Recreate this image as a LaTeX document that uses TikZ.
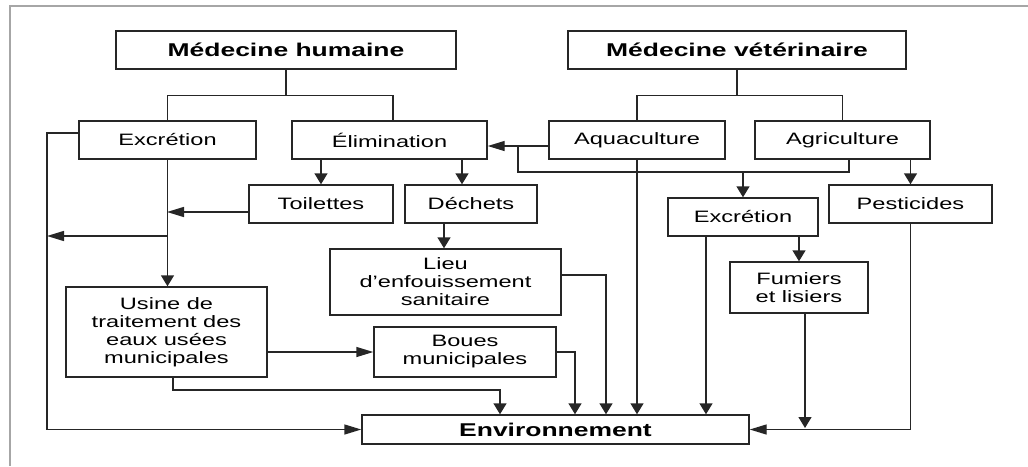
\documentclass[tikz,border=0pt]{standalone}
\usepackage{fontspec}
\setmainfont[FakeStretch=1.43]{Liberation Sans}
\usetikzlibrary{arrows.meta}
\tikzset{
  blk/.style={draw=black!85, line width=1.4pt, rectangle, align=center, inner sep=0pt,
    font=\fontsize{16.5}{18}\selectfont},
  hdr/.style={blk, font=\fontsize{18.5}{20}\selectfont\bfseries},
  arr/.style={line width=1.4pt, draw=black!85, -{Triangle[length=11pt,width=13pt]}},
  arrh/.style={line width=1.4pt, draw=black!85, -{Triangle[length=17pt,width=10pt]}},
  lnk/.style={line width=1.4pt, draw=black!85}
}
\begin{document}
\begin{tikzpicture}[x=1pt,y=-1pt]
\useasboundingbox (0,0) rectangle (1028,466);
\draw[gray!70, line width=1.8pt] (1028,6) -- (10,6) -- (10,466);

% the two sources
\node[hdr, minimum width=340pt, minimum height=38pt] (medhum) at (286,50) {Médecine humaine};
\node[hdr, minimum width=338pt, minimum height=38pt] (medvet) at (737,50) {Médecine vétérinaire};

\node[blk, minimum width=177pt, minimum height=38pt] (excrh) at (167.5,140) {Excrétion};
\node[blk, minimum width=195pt, minimum height=38pt] (elim) at (389.5,140) {Élimination};
\node[blk, minimum width=176pt, minimum height=38pt] (aqua) at (637,140) {Aquaculture};
\node[blk, minimum width=175pt, minimum height=38pt] (agri) at (842.5,140) {Agriculture};

\node[blk, minimum width=144pt, minimum height=38pt] (toil) at (321,204) {Toilettes};
\node[blk, minimum width=132pt, minimum height=38pt] (dech) at (471,204) {Déchets};
\node[blk, minimum width=163pt, minimum height=38pt] (pest) at (910.5,204) {Pesticides};
\node[blk, minimum width=150pt, minimum height=38pt] (excrv) at (743,217) {Excrétion};

\node[blk, minimum width=231pt, minimum height=66pt] (lieu) at (445.5,282) {Lieu\\d’enfouissement\\sanitaire};
\node[blk, minimum width=138pt, minimum height=51pt] (fum) at (799,287.5) {Fumiers\\et lisiers};
\node[blk, minimum width=201pt, minimum height=90pt] (usine) at (166.5,332) {Usine de\\traitement des\\eaux usées\\municipales};
\node[blk, minimum width=182pt, minimum height=50pt] (boues) at (465,352) {Boues\\municipales};

\node[hdr, minimum width=387pt, minimum height=29pt] (env) at (555.5,429.5) {Environnement};

% bends and drop points
\coordinate (lft) at (47,236);
\coordinate (j1) at (167,212);
\coordinate (j2) at (167,236);
\coordinate (d1) at (462,159);
\coordinate (d2) at (444,223);
\coordinate (r1) at (606,275);
\coordinate (r2) at (575,352);
\coordinate (r3) at (173,390);
\coordinate (r4) at (500,390);
\coordinate (a1) at (518,146);
\coordinate (a2) at (849,172);
\coordinate (a3) at (518,172);
\coordinate (v1) at (706,236);
\coordinate (b1) at (805,428);

% trees
\draw[lnk] (medhum.south) -- ++(0,26) -| (excrh.north);
\draw[lnk] (medhum.south) -- ++(0,26) -| ([xshift=3.5pt]elim.north);
\draw[lnk] (medvet.south) -- ++(0,26) -| (aqua.north);
\draw[lnk] (medvet.south) -- ++(0,26) -| (agri.north);

% human side
\draw[arrh] ([yshift=7pt]excrh.west) -| (lft) |- (env.west);
\draw[arr] (excrh.south) -- (excrh.south |- usine.north);
\draw[arrh] (toil.west |- j1) -- (j1);
\draw[arrh] (j2) -- (lft);
\draw[arr] (toil.north |- elim.south) -- (toil.north);
\draw[arr] (d1) -- (d1 |- dech.north);
\draw[arr] (d2) -- (d2 |- lieu.north);
\draw[arr] (lieu.east |- r1) -- (r1) -- (r1 |- env.north);
\draw[arrh] (usine.east |- boues.west) -- (boues.west);
\draw[arr] (boues.east) -- (r2) -- (r2 |- env.north);
\draw[arr] (r3 |- usine.south) -- (r3) -- (r4) -- (r4 |- env.north);

% veterinary side
\draw[arrh] (aqua.west |- a1) -- (elim.east |- a1);
\draw[lnk] (a2 |- agri.south) -- (a2) -- (a3) -- (a1);
\draw[arr] (excrv.north |- a2) -- (excrv.north);
\draw[arr] (aqua.south) -- (aqua.south |- env.north);
\draw[arr] (pest.north |- agri.south) -- (pest.north);
\draw[arr] (v1 |- excrv.south) -- (v1 |- env.north);
\draw[arr] (fum.north |- excrv.south) -- (fum.north);
\draw[arr] (b1 |- fum.south) -- (b1);
\draw[arrh] (pest.south) |- (env.east);
\end{tikzpicture}
\end{document}
